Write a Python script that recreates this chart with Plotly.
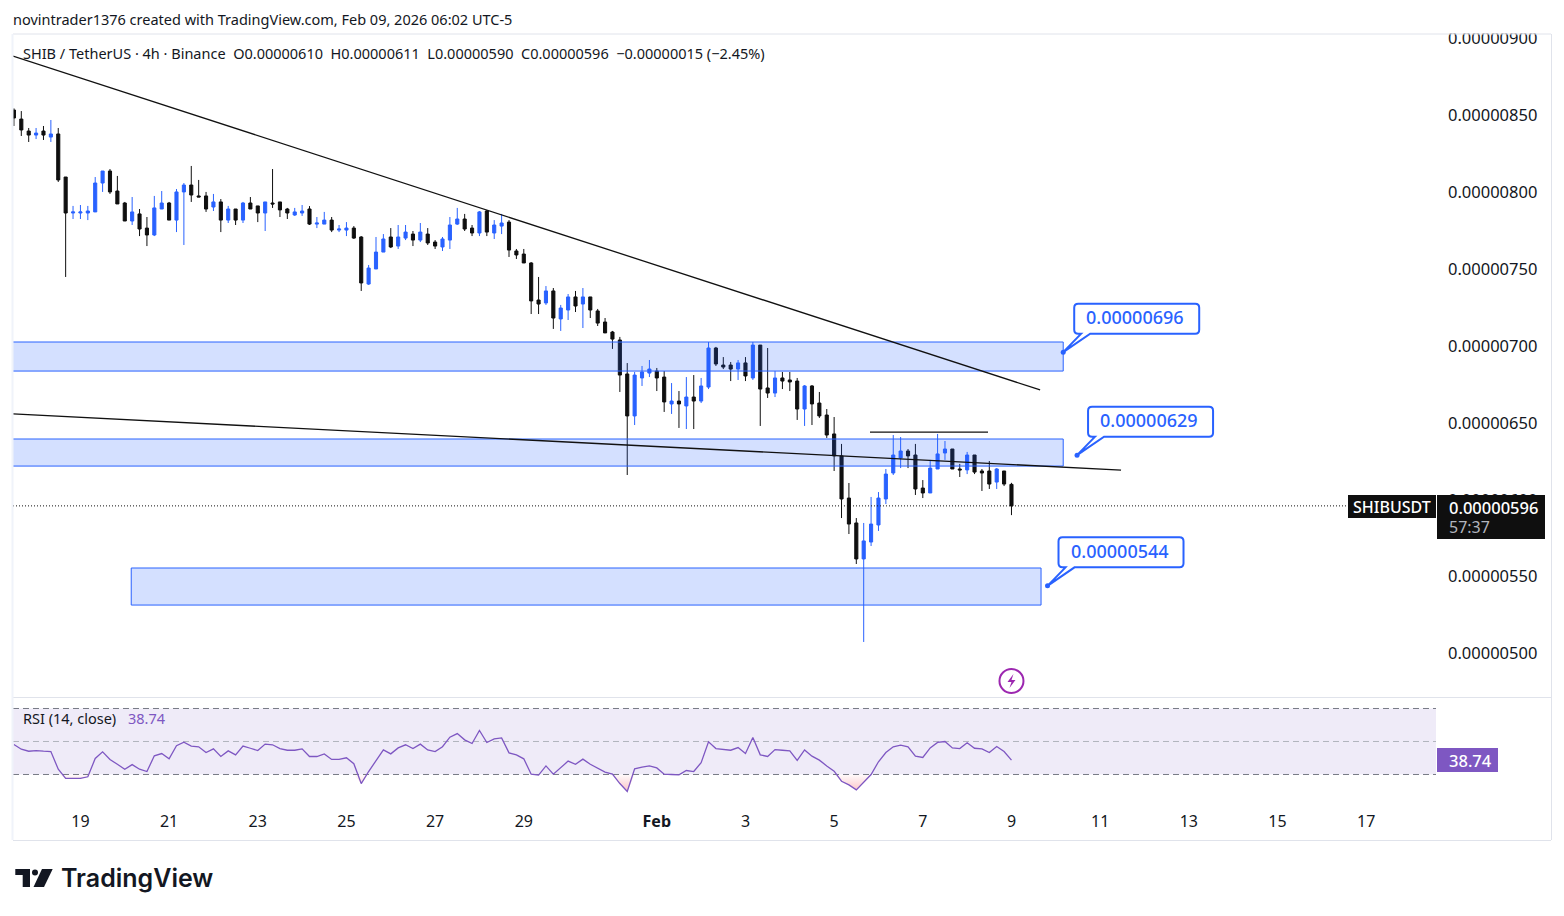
import numpy as np
import pandas as pd
import plotly.graph_objects as go

# SHIB/USDT 4h bars, prices in units of 1e-8 USDT
opens = [
    853.5, 847.6, 839.8, 837.2, 839.8, 835.9, 837.9, 809.9, 786.5, 786.5,
    786.5, 787.2, 806.0, 813.8, 800.8, 793.0, 781.3, 785.9, 776.7, 772.2,
    789.1, 793.0, 781.9, 800.2, 804.7, 797.6, 797.6, 790.4, 793.7, 781.9,
    789.1, 781.9, 793.0, 791.1, 786.5, 793.0, 793.7, 789.1, 785.2, 786.5,
    789.1, 779.3, 779.3, 781.9, 775.4, 775.4, 776.7, 770.9, 740.3, 750.1,
    761.1, 770.9, 765.0, 770.2, 772.8, 768.9, 772.8, 767.6, 764.4, 768.9,
    779.3, 782.6, 776.7, 773.5, 787.8, 773.5, 778.0, 780.6, 761.8, 759.8,
    754.0, 729.9, 728.0, 735.8, 717.6, 723.4, 731.9, 727.3, 731.9, 722.8,
    715.6, 709.1, 703.9, 681.8, 654.5, 679.2, 682.4, 683.7, 679.8, 662.3,
    664.2, 661.0, 666.8, 664.2, 673.3, 698.7, 687.6, 687.6, 685.0, 689.0,
    679.2, 700.6, 672.7, 669.4, 679.2, 677.9, 677.2, 659.0, 674.0, 662.9,
    655.1, 642.8, 628.5, 601.1, 584.9, 561.5, 572.5, 583.6, 600.5, 617.4,
    627.2, 631.7, 629.1, 607.6, 604.4, 620.0, 630.4, 633.0, 620.0, 619.4,
    629.1, 618.7, 618.7, 611.5, 618.7, 610.0,
]
highs = [
    854.6, 852.8, 841.8, 841.8, 843.1, 847.0, 841.8, 809.9, 791.1, 791.7,
    791.1, 809.9, 813.8, 815.1, 810.6, 793.7, 796.9, 789.1, 783.9, 797.6,
    800.8, 793.7, 802.1, 806.0, 817.1, 808.0, 800.2, 798.9, 795.6, 791.1,
    789.1, 793.7, 796.9, 791.1, 793.7, 815.1, 793.7, 789.8, 789.8, 791.7,
    791.0, 783.9, 787.2, 783.9, 778.7, 780.6, 778.0, 771.5, 752.7, 770.9,
    772.8, 776.7, 778.7, 778.7, 774.8, 780.0, 776.7, 768.9, 770.9, 783.9,
    789.8, 785.9, 778.7, 787.8, 788.5, 781.9, 785.9, 781.9, 763.1, 763.1,
    754.6, 744.9, 739.0, 737.7, 726.7, 733.8, 735.8, 737.7, 731.9, 724.1,
    718.2, 709.8, 705.9, 688.9, 683.1, 687.0, 690.9, 685.7, 683.7, 675.9,
    670.7, 679.8, 681.1, 679.2, 702.6, 699.4, 692.8, 689.6, 690.9, 692.8,
    702.6, 700.6, 698.7, 683.7, 683.1, 683.1, 679.2, 674.6, 674.6, 670.1,
    659.0, 653.8, 636.3, 610.9, 588.1, 584.9, 601.8, 605.0, 620.0, 642.1,
    640.8, 633.0, 636.3, 612.8, 625.9, 642.8, 638.2, 633.0, 623.3, 631.1,
    629.1, 620.0, 625.2, 620.6, 618.7, 611.0,
]
lows = [
    843.1, 836.6, 832.7, 834.6, 834.0, 832.7, 806.7, 744.9, 782.6, 782.6,
    781.9, 787.2, 800.2, 798.9, 792.4, 781.3, 778.7, 771.5, 765.0, 771.5,
    789.1, 781.9, 774.1, 765.7, 793.7, 796.9, 787.2, 787.8, 774.1, 780.0,
    778.7, 780.0, 789.1, 780.6, 774.8, 789.8, 783.9, 782.6, 784.6, 784.6,
    778.7, 776.7, 779.3, 774.1, 774.1, 771.5, 769.6, 735.8, 739.7, 750.1,
    761.1, 763.7, 763.1, 768.9, 765.0, 767.6, 765.7, 763.1, 761.8, 763.1,
    778.7, 774.8, 771.5, 771.5, 771.5, 769.6, 772.8, 757.9, 756.6, 754.0,
    720.8, 720.8, 726.7, 711.1, 709.8, 716.9, 722.1, 711.7, 718.2, 713.0,
    708.5, 698.1, 670.1, 616.1, 648.6, 674.0, 679.8, 670.7, 657.1, 655.8,
    646.7, 646.0, 646.0, 662.9, 672.0, 687.0, 685.0, 677.2, 677.9, 677.2,
    677.9, 648.0, 666.2, 666.8, 672.0, 670.7, 651.9, 648.0, 648.6, 653.2,
    640.2, 618.7, 588.1, 577.7, 558.2, 507.5, 569.9, 579.7, 597.2, 616.1,
    620.6, 620.6, 603.1, 601.1, 604.4, 620.0, 625.9, 620.0, 614.8, 616.7,
    616.7, 605.7, 607.0, 607.0, 608.9, 590.0,
]
closes = [
    848.3, 840.5, 837.2, 838.5, 837.2, 837.9, 808.0, 786.5, 787.2, 787.2,
    787.8, 806.0, 813.8, 800.2, 792.4, 781.3, 787.2, 776.1, 772.2, 789.8,
    793.0, 781.9, 800.2, 804.7, 798.2, 796.9, 789.1, 793.7, 781.9, 789.1,
    781.9, 793.0, 789.1, 786.5, 793.7, 792.4, 788.5, 786.5, 787.2, 787.8,
    779.3, 780.0, 781.9, 775.4, 776.1, 776.7, 770.2, 741.0, 750.7, 761.1,
    769.6, 764.4, 770.9, 774.1, 768.9, 774.1, 767.0, 765.0, 769.6, 778.7,
    782.6, 776.1, 773.5, 787.2, 774.1, 778.7, 780.0, 762.4, 759.2, 754.0,
    729.3, 727.3, 735.8, 718.2, 724.7, 731.9, 726.0, 731.9, 723.4, 714.9,
    708.5, 704.5, 681.1, 654.5, 681.1, 683.1, 685.0, 679.2, 663.6, 664.2,
    662.3, 666.8, 664.2, 674.0, 698.7, 688.3, 686.3, 685.0, 689.0, 680.5,
    700.6, 672.0, 669.4, 679.2, 677.2, 676.6, 659.0, 674.0, 662.3, 654.5,
    642.1, 628.5, 600.5, 584.2, 561.5, 573.2, 584.2, 601.1, 616.7, 629.1,
    631.7, 628.5, 607.0, 604.4, 620.6, 629.8, 633.0, 620.0, 619.4, 629.1,
    618.0, 617.4, 610.2, 620.0, 610.2, 596.0,
]

# RSI (14, close), one value per bar
rsi = [
    48.2, 45.3, 44.1, 44.5, 44.1, 43.9, 33.2, 27.6, 27.6, 27.6,
    28.6, 39.7, 43.7, 39.1, 36.2, 33.2, 36.0, 33.2, 31.8, 41.3,
    42.7, 39.5, 47.4, 49.6, 47.2, 46.8, 43.3, 45.5, 40.9, 44.3,
    41.9, 47.2, 45.9, 44.5, 48.4, 48.0, 45.7, 44.7, 44.7, 45.5,
    40.9, 40.9, 42.5, 39.1, 39.1, 40.1, 36.5, 24.5, 31.8, 38.7,
    44.9, 42.5, 46.1, 48.0, 45.7, 48.4, 44.9, 43.9, 46.8, 52.6,
    54.8, 51.0, 48.8, 56.7, 49.4, 51.6, 52.2, 43.1, 41.9, 39.5,
    30.2, 29.6, 35.2, 30.2, 34.2, 38.1, 36.2, 39.3, 36.2, 33.6,
    31.4, 30.2, 24.5, 19.7, 33.4, 34.4, 35.2, 34.0, 30.2, 30.0,
    29.8, 32.4, 31.8, 37.1, 49.8, 45.7, 45.1, 44.7, 46.3, 42.7,
    52.4, 41.9, 40.9, 45.1, 44.7, 44.3, 38.5, 44.9, 41.1, 38.7,
    35.2, 32.0, 25.9, 23.7, 20.7, 25.3, 30.0, 37.7, 43.3, 46.8,
    47.8, 46.8, 41.1, 40.3, 46.1, 49.4, 50.0, 46.1, 45.7, 49.2,
    45.9, 45.5, 43.3, 47.0, 43.9, 38.74,
]

price_ticks = [500, 550, 600, 650, 700, 750, 800, 850, 900]
date_ticks = ["2026-01-19", "2026-01-21", "2026-01-23", "2026-01-25", "2026-01-27",
              "2026-01-29", "2026-02-01", "2026-02-03", "2026-02-05", "2026-02-07",
              "2026-02-09", "2026-02-11", "2026-02-13", "2026-02-15", "2026-02-17"]
date_labels = ["19", "21", "23", "25", "27", "29", "<b>Feb</b>", "3", "5", "7",
               "9", "11", "13", "15", "17"]

# Drawn levels: (start, end, upper price, lower price)
zones = [
    ("2026-01-16 00:00", "2026-02-10 04:00", 702.6, 683.7),
    ("2026-01-16 00:00", "2026-02-10 04:00", 639.5, 621.9),
    ("2026-01-20 03:30", "2026-02-09 16:00", 555.6, 531.5),
]
trendlines = [
    ("2026-01-17 11:30", 888.6, "2026-02-09 15:30", 671.4),
    ("2026-01-17 11:30", 655.8, "2026-02-11 11:18", 619.3),
    ("2026-02-05 19:24", 644.0, "2026-02-08 11:18", 644.0),
]
callouts = [
    ("2026-02-10 04:00", 696, "0.00000696"),
    ("2026-02-10 11:30", 629, "0.00000629"),
    ("2026-02-09 19:30", 544, "0.00000544"),
]

UNIT = 1e-8
W, H = 1564, 916
BLUE = "#2962FF"
BLACK = "#0F0F0F"
INK = "#131722"
PURPLE = "#7E57C2"
FRAME = "#E0E3EB"
FONT = "Noto Sans"
X_RANGE = ["2026-01-17 11:30", "2026-02-18 13:48"]

times = pd.date_range(end="2026-02-09 00:00", periods=len(closes), freq="4h")


def px(x):
    return x / W


def py(y):
    return 1 - y / H


def price(value):
    return value * UNIT


fig = go.Figure()

fig.add_trace(go.Candlestick(
    x=times,
    open=[price(v) for v in opens],
    high=[price(v) for v in highs],
    low=[price(v) for v in lows],
    close=[price(v) for v in closes],
    increasing=dict(line=dict(color=BLUE, width=1), fillcolor=BLUE),
    decreasing=dict(line=dict(color=BLACK, width=1), fillcolor=BLACK),
    whiskerwidth=0,
    hoverinfo="skip",
    xaxis="x",
    yaxis="y",
))

# Oversold shading between the 30 level and the RSI line
fig.add_trace(go.Scatter(
    x=times, y=[30] * len(rsi), mode="lines", line=dict(width=0),
    hoverinfo="skip", xaxis="x2", yaxis="y2",
))
fig.add_trace(go.Scatter(
    x=times, y=np.minimum(rsi, 30), mode="lines", line=dict(width=0),
    fill="tonexty",
    fillgradient=dict(type="vertical",
                      colorscale=[[0, "rgba(242,54,69,0.30)"], [1, "rgba(242,54,69,0.02)"]]),
    hoverinfo="skip", xaxis="x2", yaxis="y2",
))
fig.add_trace(go.Scatter(
    x=times, y=rsi, mode="lines", line=dict(color=PURPLE, width=1.3),
    hoverinfo="skip", xaxis="x2", yaxis="y2",
))

shapes = []

# RSI band and levels
shapes.append(dict(type="rect", xref="x2 domain", yref="y2", x0=0, x1=1, y0=30, y1=70,
                   fillcolor="rgba(126,87,194,0.12)", line=dict(width=0), layer="below"))
for level, color in ((70, "#787B86"), (50, "#B2B5BE"), (30, "#787B86")):
    shapes.append(dict(type="line", xref="x2 domain", yref="y2", x0=0, x1=1, y0=level, y1=level,
                       line=dict(color=color, width=1, dash="6px,4px"), layer="below"))

# Support and resistance zones
for start, end, top, bottom in zones:
    shapes.append(dict(type="rect", xref="x", yref="y", x0=start, x1=end,
                       y0=price(bottom), y1=price(top),
                       fillcolor="rgba(41,98,255,0.2)",
                       line=dict(color=BLUE, width=1), layer="above"))

# Trend lines
for start, p0, end, p1 in trendlines:
    shapes.append(dict(type="line", xref="x", yref="y", x0=start, x1=end,
                       y0=price(p0), y1=price(p1),
                       line=dict(color="#111111", width=1.3), layer="above"))

# Last price line
shapes.append(dict(type="line", xref="x domain", yref="y", x0=0, x1=1,
                   y0=price(closes[-1]), y1=price(closes[-1]),
                   line=dict(color="#111111", width=1, dash="1px,2px"), layer="above"))


def callout_path(dx=11, dy=18.5, w=125, h=30, r=4):
    left, right, bottom, top = dx, dx + w, dy, dy + h
    return (f"M {left + 7} {bottom} L 0 0 L {left + 16} {bottom} "
            f"L {right - r} {bottom} Q {right} {bottom} {right} {bottom + r} "
            f"L {right} {top - r} Q {right} {top} {right - r} {top} "
            f"L {left + r} {top} Q {left} {top} {left} {top - r} "
            f"L {left} {bottom + r} Q {left} {bottom} {left + r} {bottom} Z")


annotations = []
for when, level, label_text in callouts:
    shapes.append(dict(type="path", path=callout_path(), xref="x", yref="y",
                       xsizemode="pixel", ysizemode="pixel",
                       xanchor=when, yanchor=price(level),
                       fillcolor="white", line=dict(color=BLUE, width=2), layer="above"))
    shapes.append(dict(type="circle", xref="x", yref="y",
                       xsizemode="pixel", ysizemode="pixel",
                       xanchor=when, yanchor=price(level),
                       x0=-2.5, x1=2.5, y0=-2.5, y1=2.5,
                       fillcolor=BLUE, line=dict(width=0), layer="above"))
    annotations.append(dict(x=when, y=price(level), xref="x", yref="y", text=label_text,
                            showarrow=False, xanchor="center", yanchor="middle",
                            xshift=72, yshift=35,
                            font=dict(family=FONT, size=18, color=BLUE, weight=500)))

# Event marker under the last bar
EVENT_TIME, EVENT_PRICE = "2026-02-09 00:00", 482.1
shapes.append(dict(type="circle", xref="x", yref="y", xsizemode="pixel", ysizemode="pixel",
                   xanchor=EVENT_TIME, yanchor=price(EVENT_PRICE),
                   x0=-12, x1=12, y0=-12, y1=12,
                   fillcolor="white", line=dict(color="#9C27B0", width=2), layer="above"))
shapes.append(dict(type="path", xref="x", yref="y", xsizemode="pixel", ysizemode="pixel",
                   xanchor=EVENT_TIME, yanchor=price(EVENT_PRICE),
                   path="M 2 7 L -4 -1 L 0 -1 L -2 -7 L 4 1 L 0 1 Z",
                   fillcolor="#9C27B0", line=dict(width=0), layer="above"))


def rect_px(x0, y0, x1, y1, fill):
    return dict(type="rect", xref="paper", yref="paper",
                x0=px(x0), x1=px(x1), y0=py(y1), y1=py(y0),
                fillcolor=fill, line=dict(width=0), layer="above")


def line_px(x0, y0, x1, y1, color=FRAME, width=1):
    return dict(type="line", xref="paper", yref="paper",
                x0=px(x0), x1=px(x1), y0=py(y0), y1=py(y1),
                line=dict(color=color, width=width), layer="above")


# Mask above the pane, which trims the top price label
shapes.append(rect_px(1437, 20, 1550, 33.5, "white"))

# Frame of the chart
shapes.append(line_px(13, 34, 1551, 34))
shapes.append(line_px(13, 697.5, 1551, 697.5))
shapes.append(line_px(13, 840.5, 1551, 840.5))
shapes.append(line_px(1551.5, 34, 1551.5, 840))
shapes.append(line_px(12.5, 34, 12.5, 840, "#F0F3FA", 2))

# Symbol and last price tags on the price scale
shapes.append(rect_px(1348, 495, 1436, 518, BLACK))
shapes.append(rect_px(1437, 495, 1545, 539, BLACK))
# RSI value tag
shapes.append(rect_px(1437, 748, 1498, 772, PURPLE))

# TradingView mark
shapes.append(dict(type="path", xref="paper", yref="paper", layer="above",
                   path=(f"M {px(15.3)} {py(869)} L {px(30)} {py(869)} L {px(30)} {py(887)} "
                         f"L {px(22.7)} {py(887)} L {px(22.7)} {py(875)} L {px(15.3)} {py(875)} Z"),
                   fillcolor="#131722", line=dict(width=0)))
shapes.append(dict(type="circle", xref="paper", yref="paper", layer="above",
                   x0=px(32), x1=px(38), y0=py(875.5), y1=py(869.5),
                   fillcolor="#131722", line=dict(width=0)))
shapes.append(dict(type="path", xref="paper", yref="paper", layer="above",
                   path=(f"M {px(42)} {py(869)} L {px(52.7)} {py(869)} L {px(44)} {py(887)} "
                         f"L {px(33.5)} {py(887)} Z"),
                   fillcolor="#131722", line=dict(width=0)))


def label(x, y, text, size=14.5, color=INK, family=FONT, anchor="left", weight=400):
    annotations.append(dict(x=px(x), y=py(y), xref="paper", yref="paper", text=text,
                            showarrow=False, xanchor=anchor, yanchor="middle",
                            font=dict(family=family, size=size, color=color, weight=weight),
                            borderpad=0, borderwidth=0))


label(13, 19, "novintrader1376 created with TradingView.com, Feb 09, 2026 06:02 UTC-5")
label(23, 53, "SHIB / TetherUS · 4h · Binance&nbsp;&nbsp;O0.00000610&nbsp;&nbsp;H0.00000611&nbsp;&nbsp;"
              "L0.00000590&nbsp;&nbsp;C0.00000596&nbsp;&nbsp;−0.00000015 (−2.45%)")
label(23, 718, "RSI (14, close)")
label(128, 718, "38.74", color=PURPLE)
label(1392, 507, "SHIBUSDT", size=16, color="white", anchor="center", weight=500)
label(1493, 507, "0.00000596", size=16.5, color="white", anchor="center", weight=500)
label(1449, 527, "57:37", size=16, color="#B2B5BE")
label(1470.5, 760, "38.74", size=16.5, color="white", anchor="center", weight=500)
label(61, 878, "TradingView", size=25, color="#131722", family="Inter", weight=600)

fig.update_layout(
    width=W,
    height=H,
    margin=dict(l=0, r=0, t=0, b=0, autoexpand=False),
    paper_bgcolor="white",
    plot_bgcolor="white",
    showlegend=False,
    boxgap=0.4,
    dragmode=False,
    font=dict(family=FONT, color=INK, size=16),
    shapes=shapes,
    annotations=annotations,
    xaxis=dict(
        domain=[px(13), px(1436)], anchor="y", type="date", range=X_RANGE,
        rangeslider=dict(visible=False), showgrid=False, zeroline=False,
        showticklabels=False, ticks="", showline=False,
    ),
    xaxis2=dict(
        domain=[px(13), px(1436)], anchor="y2", type="date", range=X_RANGE, matches="x",
        showgrid=False, zeroline=False, showline=False, ticks="",
        tickmode="array", tickvals=date_ticks, ticktext=date_labels,
        tickangle=0, ticklabelstandoff=4,
        tickfont=dict(family=FONT, size=16, color=INK),
    ),
    yaxis=dict(
        domain=[py(697), py(34)], anchor="x", side="right",
        range=[price(471.7), price(902.93)], showgrid=False, zeroline=False,
        showline=False, ticks="", tickmode="array",
        tickvals=[price(v) for v in price_ticks], tickformat=".8f",
        ticklabelstandoff=11,
        tickfont=dict(family=FONT, size=16.5, color=INK),
    ),
    yaxis2=dict(
        domain=[py(806), py(698)], anchor="x2", side="right",
        range=[10.9, 76.36], showgrid=False, zeroline=False,
        showline=False, ticks="", showticklabels=False,
    ),
)

fig.write_html("out.html")
